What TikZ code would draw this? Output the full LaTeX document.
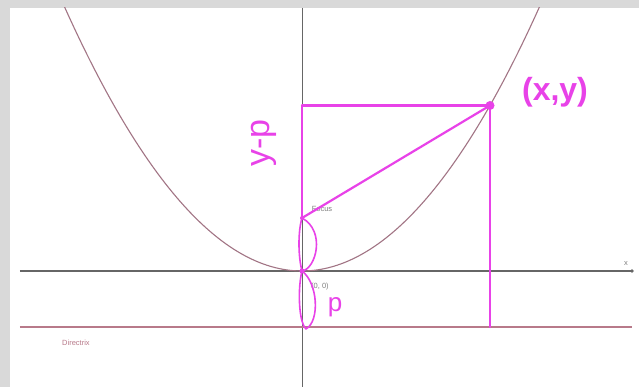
\documentclass[tikz,border=0pt]{standalone}
\usepackage{fontspec}
\setmainfont{Liberation Sans}
\definecolor{pink}{HTML}{E842E8}
\definecolor{curve}{HTML}{A27585}
\definecolor{dirx}{HTML}{B87A8A}
\tikzset{
  axisline/.style={draw=gray!80!black,line width=1.3pt},
  handline/.style={draw=pink,line width=2.2pt,line cap=round,line join=round},
  smalltext/.style={font=\fontsize{7.5}{8}\selectfont,text=gray}
}
\begin{document}
\begin{tikzpicture}[x=1pt,y=1pt]
  \useasboundingbox (-302,-116) rectangle (337,271);
  % frame
  \fill[gray!30] (-302,-116) rectangle (337,271);
  \fill[white] (-292,-116) rectangle (337,263);
  \coordinate (O) at (0,0);
  \coordinate (F) at (0,53);
  \coordinate (P) at (188,165.5);
  \coordinate (Q) at (0,165.5);
  \coordinate (D) at (188,-56);
  \coordinate (xl) at (-282,0);
  \coordinate (xr) at (330,0);
  \coordinate (dl) at (-282,-56);
  \coordinate (dr) at (330,-56);
  \coordinate (yt) at (0,263);
  \coordinate (yb) at (0,-116);
  % axes and directrix
  \draw[axisline] (xl) -- (xr);
  \fill[gray!80!black] (xr) circle (1.8);
  \node[smalltext] (xlab) at (324,7) {x};
  \draw[axisline,line width=1pt] (yt) -- (yb);
  \draw[dirx,line width=1.3pt] (dl) -- (dr);
  \node[smalltext,text=dirx] (dlab) at (-226,-72) {Directrix};
  % parabola
  \begin{scope}
    \clip (-292,-116) rectangle (337,263);
    \draw[curve,line width=1.1pt] plot[domain=-245:245,samples=120] (\x,{(\x/14.612)*(\x/14.612)});
  \end{scope}
  \node[smalltext] (flab) at (20,62) {Focus};
  \node[smalltext] (olab) at (18,-16) {(0, 0)};
  % distances
  \draw[handline] (Q) -- (P);
  \draw[handline] (Q) -- (F);
  \draw[handline] (F) -- (P);
  \draw[handline] (P) -- (D);
  \fill[pink] (P) circle (4.5);
  \fill[pink] (O) circle (2.5);
  \fill[pink] (F) circle (2);
  % loops
  \draw[handline,line width=1.6pt] (F) .. controls (24,40) and (14,2) .. (O)
    .. controls (-4,15) and (-4,40) .. (F);
  \draw[handline,line width=1.6pt] (O) .. controls (16,-12) and (18,-50) .. (4,-58)
    .. controls (-4,-50) and (-4,-15) .. (O);
  % labels
  \node[text=pink,font=\fontsize{32}{36}\selectfont\bfseries] (xy) at (253,179) {(x,y)};
  \node[text=pink,font=\fontsize{34}{36}\selectfont,rotate=90] (ymp) at (-38,128) {y-p};
  \node[text=pink,font=\fontsize{26}{28}\selectfont] (plab) at (33,-36) {p};
\end{tikzpicture}
\end{document}
